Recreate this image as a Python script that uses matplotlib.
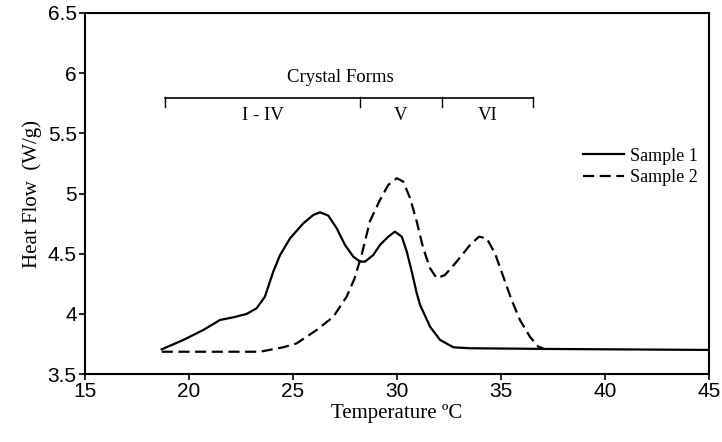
import matplotlib
matplotlib.use("Agg")
import matplotlib.pyplot as plt

# Sample 1 (solid)
s1_x = [18.69, 19.73, 20.69, 21.49, 22.13, 22.77, 23.25, 23.65, 24.05, 24.38,
        24.86, 25.50, 25.98, 26.30, 26.70, 27.10, 27.50, 27.90, 28.22, 28.46,
        28.86, 29.18, 29.58, 29.90, 30.23, 30.47, 30.71, 30.95, 31.11, 31.59,
        32.07, 32.71, 33.51, 37.36, 45.0]
s1_y = [3.705, 3.783, 3.866, 3.949, 3.971, 3.999, 4.046, 4.143, 4.350, 4.489,
        4.628, 4.753, 4.822, 4.844, 4.816, 4.711, 4.572, 4.475, 4.434, 4.434,
        4.489, 4.572, 4.641, 4.683, 4.641, 4.517, 4.350, 4.171, 4.074, 3.893,
        3.783, 3.722, 3.714, 3.708, 3.700]

# Sample 2 (dashed)
s2_x = [18.69, 23.41, 24.53, 25.18, 26.14, 26.94, 27.58, 27.95, 28.30, 28.70,
        29.18, 29.58, 29.99, 30.30, 30.63, 30.95, 31.26, 31.59, 31.91, 32.31,
        32.87, 33.51, 33.94, 34.31, 34.71, 35.11, 35.51, 35.91, 36.39, 36.79,
        37.03]
s2_y = [3.685, 3.685, 3.722, 3.755, 3.866, 3.976, 4.143, 4.290, 4.490, 4.770,
        4.946, 5.071, 5.127, 5.099, 4.961, 4.766, 4.545, 4.379, 4.296, 4.323,
        4.434, 4.572, 4.641, 4.628, 4.503, 4.309, 4.115, 3.949, 3.810, 3.727,
        3.714]

# Crystal form ranges
form_edges = [18.85, 28.22, 32.16, 36.54]
form_labels = ["I - IV", "V", "VI"]
bracket_y = 5.794

x_ticks = [15, 20, 25, 30, 35, 40, 45]
y_ticks = [3.5, 4, 4.5, 5, 5.5, 6, 6.5]

serif = ["Liberation Serif", "DejaVu Serif"]
sans = ["Liberation Sans", "DejaVu Sans"]

fig = plt.figure(figsize=(7.22, 4.42), dpi=100)
ax = fig.add_axes([85/722, 1-374/442, 624/722, 361/442])

ax.plot(s1_x, s1_y, color="black", lw=1.6, label="Sample 1")
ax.plot(s2_x, s2_y, color="black", lw=1.6, dashes=(5, 2.5), label="Sample 2")

# bracket
ax.plot([form_edges[0], form_edges[-1]], [bracket_y, bracket_y], color="black", lw=1.2)
for e in form_edges:
    ax.plot([e, e], [bracket_y + 0.01, bracket_y - 0.075], color="black", lw=1.0)
ax.text(27.26, 5.96, "Crystal Forms", ha="center", va="center", fontsize=13.5, family=serif)
for i, lab in enumerate(form_labels):
    xc = (form_edges[i] + form_edges[i + 1]) / 2
    ax.text(xc, 5.65, lab, ha="center", va="center", fontsize=13.5, family=serif)

ax.set_xlim(15, 45)
ax.set_ylim(3.5, 6.5)
ax.set_xticks(x_ticks)
ax.set_xticklabels([str(v) for v in x_ticks], family=sans, fontsize=15)
ax.set_yticks(y_ticks)
ax.set_yticklabels([("%g" % v) for v in y_ticks], family=sans, fontsize=15)
ax.tick_params(direction="out", length=4, width=1.2, pad=2)
for sp in ax.spines.values():
    sp.set_linewidth(1.5)

ax.set_xlabel("Temperature ºC", family=serif, fontsize=15, labelpad=2)
ax.set_ylabel("Heat Flow  (W/g)", family=serif, fontsize=15, labelpad=4)

leg = ax.legend(loc="upper left", bbox_to_anchor=(0.798, 0.627), frameon=False,
                prop={"family": serif, "size": 13}, handlelength=2.3,
                handletextpad=0.33, borderpad=0, borderaxespad=0, labelspacing=0.25)

fig.savefig("out.png", dpi=100, facecolor="white")
